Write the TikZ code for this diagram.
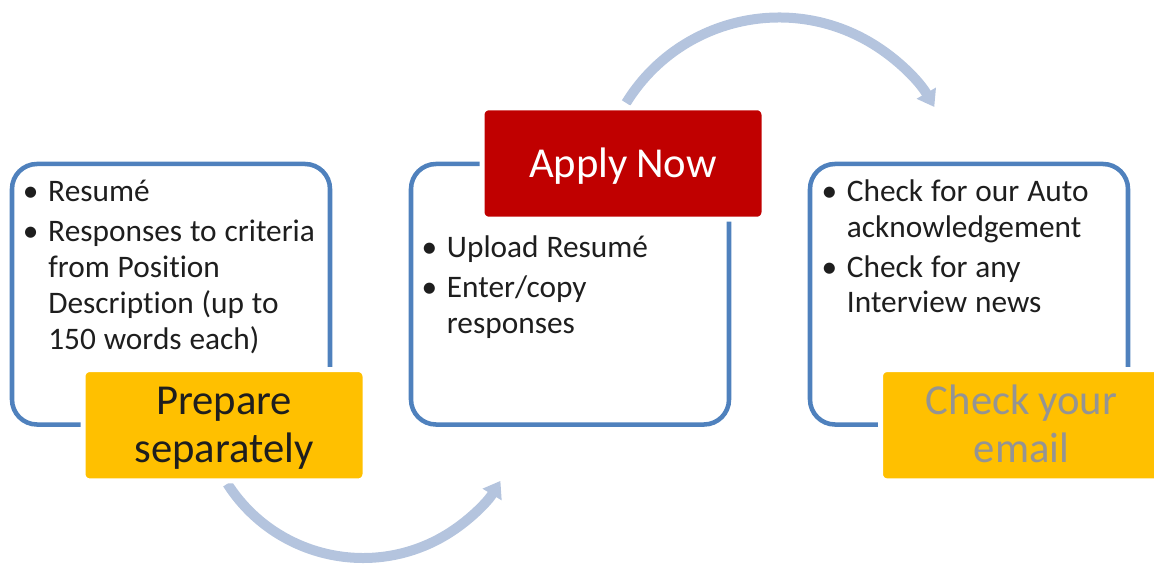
\documentclass[tikz,border=0pt]{standalone}
\usepackage{fontspec}
\setmainfont{Carlito}[Ligatures=NoCommon, WordSpace=1.12]
\newfontfamily\labelfont{Carlito}[Ligatures=NoCommon, WordSpace=0.9]
\usetikzlibrary{arrows.meta}
\definecolor{boxblue}{RGB}{79,129,189}
\definecolor{arcblue}{RGB}{180,196,222}
\definecolor{gold}{RGB}{255,192,0}
\definecolor{darkred}{RGB}{192,0,0}
\definecolor{txt}{RGB}{30,30,30}
\definecolor{graytxt}{RGB}{148,148,148}
\newcommand\bul{\par\noindent\llap{\textbullet\hspace{7.3pt}}}
\newcommand\tallstrut{\rule{0pt}{31pt}}
\newcommand\lowstrut{\rule[-10.5pt]{0pt}{10.5pt}}
\tikzset{
  panel/.style={draw=boxblue, line width=3.4pt, rounded corners=18.75pt,
    minimum width=238.5pt, minimum height=195.4pt, inner sep=0pt},
  labelbox/.style={draw=white, line width=3.75pt, rounded corners=5pt,
    minimum width=211.5pt, minimum height=83.6pt, inner sep=0pt, align=center,
    font=\labelfont\fontsize{32}{36}\selectfont},
  bullets/.style={anchor=north west, inner sep=0pt, text width=250pt, align=flush left,
    text=txt, font=\fontsize{23.5}{26.85}\selectfont\setlength{\parskip}{3.2pt}},
  flow/.style={draw=arcblue, line width=7.5pt, -{Triangle[width=16pt,length=12pt]}}
}
\begin{document}
\begin{tikzpicture}[x=0.75pt,y=0.75pt]
\useasboundingbox (0,0) rectangle (1154,565);
\clip (0,0) rectangle (1154,565);
% curved arrows
\coordinate (c1) at (363,168);
\coordinate (c2) at (779,368);
\draw[flow] (c1) ++(-147.4:161) arc[start angle=-147.4,end angle=-31.4,radius=161];
\draw[flow] (c2) ++(148.4:179.5) arc[start angle=148.4,end angle=30.1,radius=179.5];
% panels
\node[panel] (b1) at (171,270.75) {};
\node[panel] (b2) at (570,270.75) {};
\node[panel] (b3) at (969,270.75) {};
% bullet texts
\node[bullets] (t1) at (48,403.4) {\bul\strut Resumé\bul Responses to criteria\\from Position\\Description (up to\\150 words each)};
\node[bullets] (t2) at (446.7,347.4) {\bul\strut Upload Resumé\bul Enter/copy\\responses};
\node[bullets] (t3) at (846.7,404.1) {\bul\strut Check for our Auto\\acknowledgement\bul Check for any\\Interview news};
% labels
\node[labelbox, fill=gold, text=txt] (p1) at (224,139.75) {\tallstrut Prepare\\\lowstrut separately};
\node[labelbox, fill=darkred, text=white] (p2) at (623,401.5) {\rule{0pt}{32pt}\lowstrut Apply Now};
\node[labelbox, fill=gold, text=graytxt] (p3) at (1021.5,139.75) {\tallstrut Check your\\\lowstrut email};
\end{tikzpicture}
\end{document}
